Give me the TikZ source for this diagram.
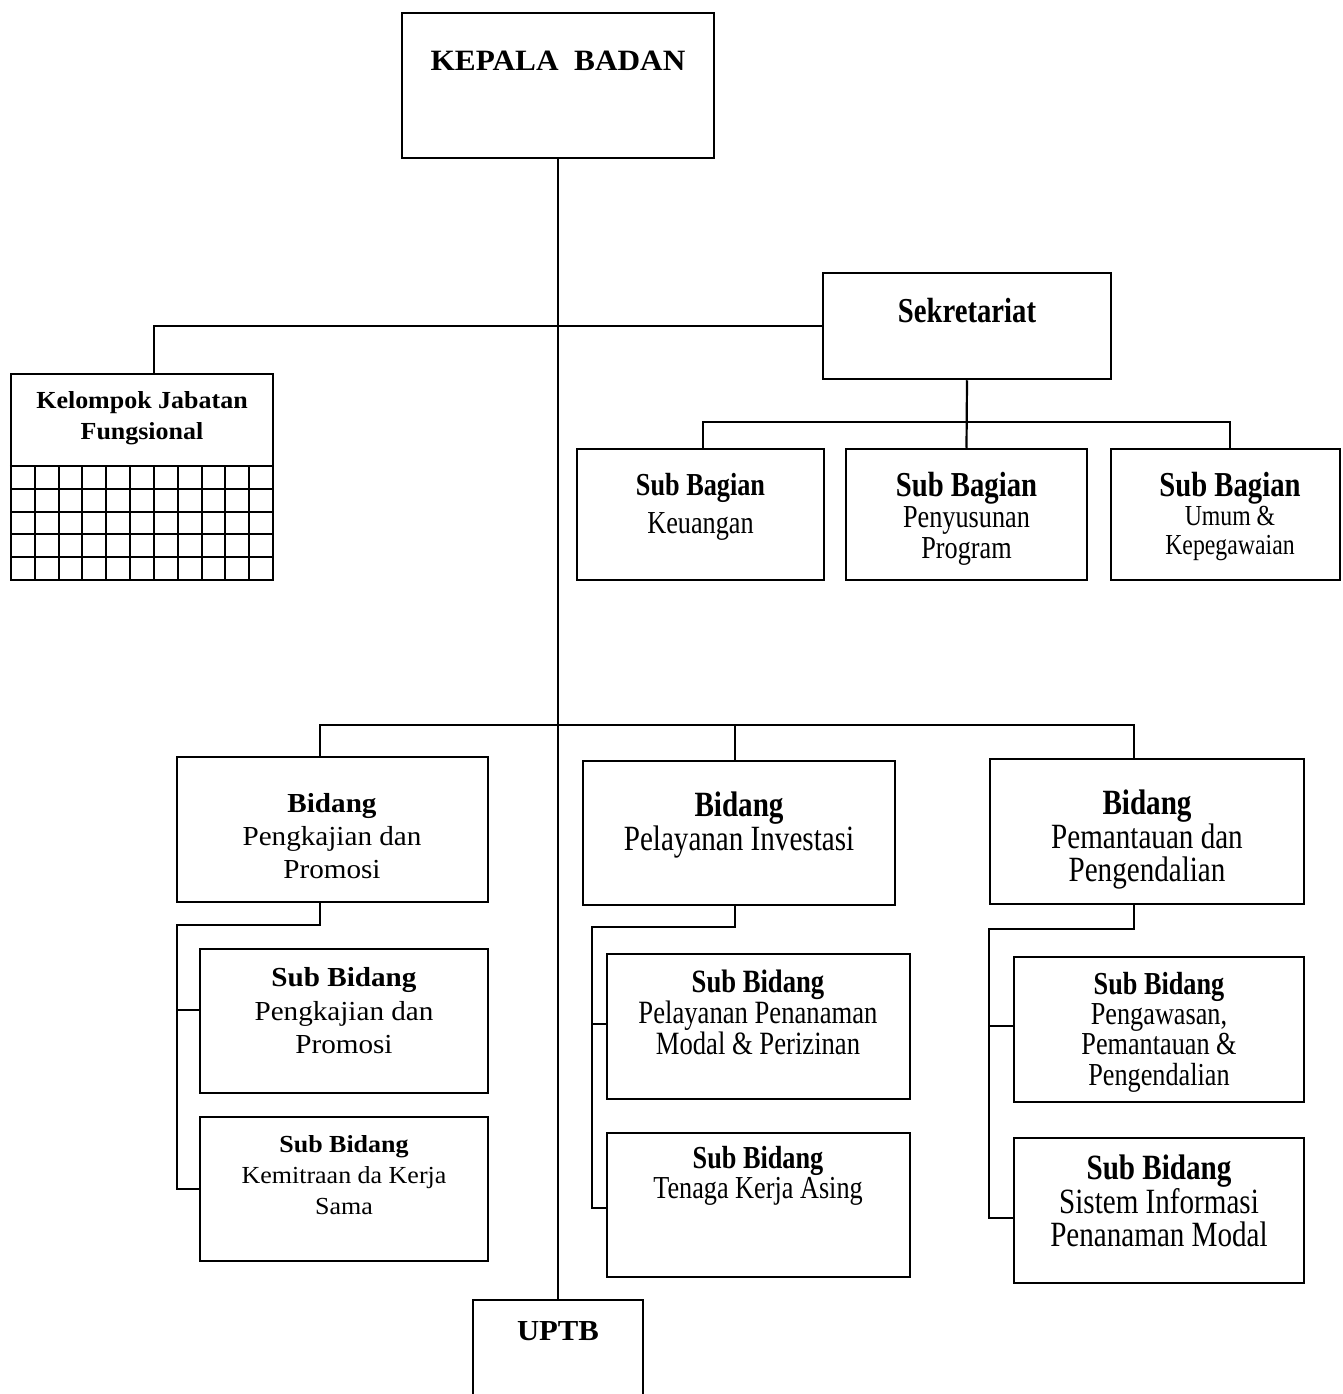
\documentclass[tikz,border=0pt]{standalone}
\usepackage{fontspec}
\setmainfont{Liberation Serif}
\newfontfamily\rf[FakeStretch=1.06]{Liberation Serif}
\newfontfamily\cf[FakeStretch=0.82]{Liberation Serif}
\newcommand\myfs[2]{\fontsize{#1pt}{#2pt}\selectfont\lineskiplimit=-100pt\lineskip=0pt}
\lineskiplimit=-100pt
\begin{document}
\begin{tikzpicture}[x=1pt,y=-1pt,
  box/.style={draw, line width=2.5pt, inner sep=0pt},
  conn/.style={line width=2.2pt},
  gridline/.style={line width=2pt},
  txt/.style={align=center, inner sep=0pt}]
\useasboundingbox (0,0) rectangle (1342,1394);
\clip (0,0) rectangle (1342,1394);
% boxes
\node[box, minimum width=312pt, minimum height=145pt] (kepala) at (558,85.5) {};
\node[box, minimum width=288pt, minimum height=106pt] (sek) at (967,326) {};
\node[box, minimum width=262pt, minimum height=206pt] (kjf) at (142,477) {};
\node[box, minimum width=247pt, minimum height=131pt] (sbk) at (700.5,514.5) {};
\node[box, minimum width=241pt, minimum height=131pt] (sbp) at (966.5,514.5) {};
\node[box, minimum width=229pt, minimum height=131pt] (sbu) at (1225.5,514.5) {};
\node[box, minimum width=311pt, minimum height=145pt] (b1) at (332.5,829.5) {};
\node[box, minimum width=312pt, minimum height=144pt] (b2) at (739,833) {};
\node[box, minimum width=314pt, minimum height=145pt] (b3) at (1147,831.5) {};
\node[box, minimum width=288pt, minimum height=144pt] (s1a) at (344,1021) {};
\node[box, minimum width=288pt, minimum height=144pt] (s1b) at (344,1189) {};
\node[box, minimum width=303pt, minimum height=145pt] (s2a) at (758.5,1026.5) {};
\node[box, minimum width=303pt, minimum height=144pt] (s2b) at (758.5,1205) {};
\node[box, minimum width=290pt, minimum height=145pt] (s3a) at (1159,1029.5) {};
\node[box, minimum width=290pt, minimum height=145pt] (s3b) at (1159,1210.5) {};
\node[box, minimum width=170pt, minimum height=120pt] (uptb) at (558,1360) {};
% grid of Kelompok Jabatan Fungsional
\draw[gridline] (kjf.west |- 0,466) -- (kjf.east |- 0,466);
\foreach \i in {1,...,10} \draw[gridline] (11+\i*23.82,466) -- ++(0,114);
\foreach \j in {1,...,4} \draw[gridline] (11,466+\j*22.8) -- ++(262,0);
% connector points
\coordinate (kjft) at (154,374);
\coordinate (sekbus) at (966.5,422);
\coordinate (sbkt) at (703,449);
\coordinate (sbut) at (1230,449);
\coordinate (mbus) at (558,725);
\coordinate (b1t) at (320,757);
\coordinate (b2t) at (735,761);
\coordinate (b3t) at (1134,759);
\coordinate (b1b) at (320,902);
\coordinate (b1j) at (177,925);
\coordinate (s1aw) at (200,1010);
\coordinate (b2b) at (735,905);
\coordinate (b2j) at (592,927);
\coordinate (s2aw) at (607,1024);
\coordinate (s2bw) at (607,1208);
\coordinate (b3b) at (1134,904);
\coordinate (b3j) at (989,929);
\coordinate (s3aw) at (1014,1026);
\coordinate (s3bw) at (1014,1218);
% connectors
\draw[conn] (kepala.south) -- (uptb.north);
\draw[conn] (sek.west) -| (kjft);
\draw[conn] (sek.south) -- (sbp.north);
\draw[conn] (sbkt) |- (sekbus) -| (sbut);
\draw[conn] (b1t) |- (mbus) -| (b3t);
\draw[conn] (b2t) -- (b2t |- mbus);
\draw[conn] (b1b) |- (b1j) |- (s1b.west);
\draw[conn] (b1j |- s1aw) -- (s1aw);
\draw[conn] (b2b) |- (b2j) |- (s2bw);
\draw[conn] (b2j |- s2aw) -- (s2aw);
\draw[conn] (b3b) |- (b3j) |- (s3bw);
\draw[conn] (b3j |- s3aw) -- (s3aw);
% texts
\node[txt, font=\rf\bfseries\myfs{29.5}{35}] (tkepala) at (558,61) {KEPALA~~BADAN};
\node[txt, font=\cf\bfseries\myfs{35}{40}] (tsek) at (967,311) {Sekretariat};
\node[txt, font=\rf\bfseries\myfs{24.5}{31}] (tkjf) at (142,418) {Kelompok Jabatan\\Fungsional};
\node[txt, font=\cf\myfs{32}{38}] (tsbk) at (700.5,507) {{\bfseries Sub Bagian}\\Keuangan};
\node[txt, font=\cf\myfs{32}{31}] (tsbp) at (966.5,519) {{\bfseries\myfs{35}{31}Sub Bagian}\\Penyusunan\\Program};
\node[txt, font=\cf\myfs{29}{29}] (tsbu) at (1230,516) {{\bfseries\myfs{35}{29}Sub Bagian}\\Umum \&\\Kepegawaian};
\node[txt, font=\rf\myfs{27.5}{33}] (tb1) at (332,836) {{\bfseries Bidang}\\Pengkajian dan\\Promosi};
\node[txt, font=\cf\myfs{35.5}{34}] (tb2) at (739,825) {{\bfseries Bidang}\\Pelayanan Investasi};
\node[txt, font=\cf\myfs{35.5}{33.5}] (tb3) at (1147,840) {{\bfseries Bidang}\\Pemantauan dan\\Pengendalian};
\node[txt, font=\rf\myfs{27.5}{33.5}] (ts1a) at (344,1011) {{\bfseries Sub Bidang}\\Pengkajian dan\\Promosi};
\node[txt, font=\rf\myfs{24.5}{31}] (ts1b) at (344,1175) {{\bfseries Sub Bidang}\\Kemitraan da Kerja\\Sama};
\node[txt, font=\cf\myfs{32.5}{31}] (ts2a) at (758,1012) {{\bfseries Sub Bidang}\\Pelayanan Penanaman\\Modal \& Perizinan};
\node[txt, font=\cf\myfs{32}{30}] (ts2b) at (758,1176) {{\bfseries Sub Bidang}\\Tenaga Kerja Asing};
\node[txt, font=\cf\myfs{32}{30.3}] (ts3a) at (1159,1032) {{\bfseries Sub Bidang}\\Pengawasan,\\Pemantauan \&\\Pengendalian};
\node[txt, font=\cf\myfs{35.5}{33.5}] (ts3b) at (1159,1201) {{\bfseries Sub Bidang}\\Sistem Informasi\\Penanaman Modal};
\node[txt, font=\rf\bfseries\myfs{29}{35}] (tuptb) at (558,1331) {UPTB};
\end{tikzpicture}
\end{document}
